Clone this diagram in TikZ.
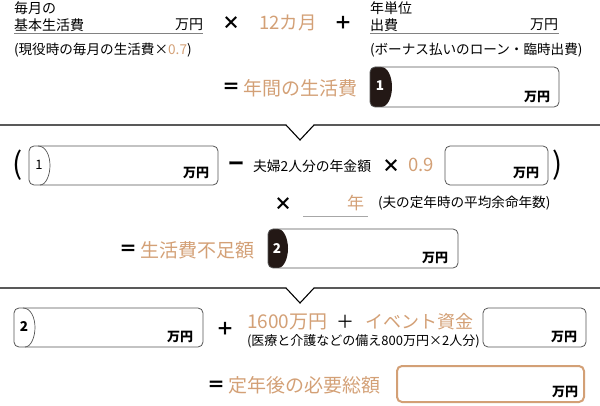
\documentclass[tikz,border=0pt]{standalone}
\usepackage{fontspec}
\setmainfont{Noto Sans CJK JP}
\definecolor{tan}{RGB}{211,160,118}
\definecolor{boxgray}{RGB}{85,85,85}
\definecolor{tabblack}{RGB}{35,24,21}
\definecolor{linegray}{RGB}{130,130,130}
\begin{document}
\begin{tikzpicture}[x=1pt,y=-1pt,
  every node/.style={inner sep=0pt, outer sep=0pt},
  lbl/.style={font=\fontsize{14}{14}\selectfont, anchor=west},
  note/.style={font=\fontsize{13.6}{13.6}\selectfont, anchor=west},
  big/.style={font=\fontsize{19}{19}\selectfont, anchor=west, text=tan},
  op/.style={font=\fontsize{18}{18}\selectfont\bfseries},
  unit/.style={font=\fontsize{13}{13}\selectfont\bfseries, anchor=east},
  num/.style={font=\fontsize{13.5}{13.5}\selectfont\bfseries},
  ansbox/.style={draw=boxgray, line width=0.8pt, rounded corners=5pt},
  sepline/.style={draw=black, line width=1.1pt},
  uline/.style={draw=linegray, line width=1pt}]
\useasboundingbox (0,0) rectangle (600,406);

% ---------- row 1 ----------
\node[lbl] (t1a) at (14,8) {毎月の};
\node[lbl] (t1b) at (14,25) {基本生活費};
\node[unit, font=\fontsize{14}{14}\selectfont] (t1u) at (203,25) {万円};
\draw[uline] (14,33.5) -- (203,33.5);
\node[note] (t1n) at (14,50) {(現役時の毎月の生活費×\textcolor{tan}{0.7})};
\node[op] (m1) at (231,23) {×};
\node[big, font=\fontsize{18.5}{18.5}\selectfont] (twelve) at (259,23) {12カ月};
\node[op] (p1) at (343,23) {＋};
\node[lbl] (t2a) at (370,8) {年単位};
\node[lbl] (t2b) at (370,25) {出費};
\node[unit, font=\fontsize{14}{14}\selectfont] (t2u) at (558,25) {万円};
\draw[uline] (370,33.5) -- (559,33.5);
\node[note] (t2n) at (370,50) {(ボーナス払いのローン・臨時出費)};
\node[op] (e1) at (231,88) {＝};
\node[big] (annual) at (243,88) {年間の生活費};
% box 1
\begin{scope}
\clip[rounded corners=5pt] (370,67) rectangle (559,107);
\fill[tabblack] (360,67) -- (381,67) .. controls (388,67) and (392,77) .. (392,87) .. controls (392,97) and (388,107) .. (381,107) -- (360,107) -- cycle;
\end{scope}
\node[ansbox, anchor=north west, minimum width=189pt, minimum height=40pt] (b1) at (370,67) {};
\node[num, text=white] (n1) at (380,86) {1};
\node[unit] (u1) at (550,97) {万円};

% separator 1
\draw[sepline] (0,125) -- (286,125) -- (300,140) -- (314,125) -- (600,125);

% ---------- row 2 ----------
\node[font=\fontsize{30}{30}\selectfont] (lp) at (18,165) {(};
\node[ansbox, anchor=north west, minimum width=189pt, minimum height=39pt] (b3) at (29,146) {};
\draw[boxgray, line width=0.7pt] (38,146) .. controls (46,146) and (50,156) .. (50,165.5) .. controls (50,175) and (46,185) .. (40,185);
\node[num, font=\fontsize{13}{13}\selectfont\mdseries] (n3) at (39,165) {1};
\node[unit] (u3) at (209,173) {万円};
\node[op, font=\fontsize{16}{16}\selectfont\bfseries] (minus) at (236,166) {ー};
\node[lbl, font=\fontsize{13.8}{13.8}\selectfont] (pension) at (253,166) {夫婦2人分の年金額};
\node[op] (m2) at (391,166) {×};
\node[big, font=\fontsize{18.5}{18.5}\selectfont] (zn) at (408,165) {0.9};
\node[ansbox, anchor=north west, minimum width=103pt, minimum height=39pt] (b4) at (445,146) {};
\node[unit] (u4) at (539,173) {万円};
\node[font=\fontsize{30}{30}\selectfont] (rp) at (558,165) {)};
\node[op] (m3) at (283,204) {×};
\draw[uline, draw=linegray!70] (303,217) -- (368,217);
\node[big, font=\fontsize{17}{17}\selectfont] (yr) at (347,203) {年};
\node[note] (lifenote) at (378,203) {(夫の定年時の平均余命年数)};
\node[op] (e2) at (128,250) {＝};
\node[big] (short) at (140,250) {生活費不足額};
% box 2
\begin{scope}
\clip[rounded corners=5pt] (268,229) rectangle (458,268);
\fill[tabblack] (258,229) -- (278,229) .. controls (284,229) and (288,239) .. (288,248.5) .. controls (288,258) and (284,268) .. (278,268) -- (258,268) -- cycle;
\end{scope}
\node[ansbox, anchor=north west, minimum width=190pt, minimum height=39pt] (b2) at (268,229) {};
\node[num, text=white] (n2) at (277,249) {2};
\node[unit] (u2) at (448,258) {万円};

% separator 2
\draw[sepline] (0,288) -- (286,288) -- (300,303) -- (314,288) -- (600,288);

% ---------- row 3 ----------
\node[ansbox, anchor=north west, minimum width=189pt, minimum height=39pt] (b5) at (14,308) {};
\draw[boxgray, line width=0.7pt] (23,308) .. controls (31,308) and (35,318) .. (35,327.5) .. controls (35,337) and (31,347) .. (25,347);
\node[num] (n5) at (24,327) {2};
\node[unit] (u5) at (193,337) {万円};
\node[op] (p2) at (225,329) {＋};
\node[big, font=\fontsize{19}{19}\selectfont] (sixteen) at (247,322) {1600万円};
\node[op, font=\fontsize{18}{18}\selectfont] (p3) at (345,322) {＋};
\node[big, font=\fontsize{18}{18}\selectfont] (event) at (365,322) {イベント資金};
\node[note, font=\fontsize{13}{13}\selectfont] (eventnote) at (247,341) {(医療と介護などの備え800万円×2人分)};
\node[ansbox, anchor=north west, minimum width=103pt, minimum height=39pt] (b6) at (483,308) {};
\node[unit] (u6) at (577,337) {万円};
\node[op] (e3) at (216,386) {＝};
\node[big] (total) at (228,385) {定年後の必要総額};
\node[draw=tan, line width=2pt, rounded corners=5pt, anchor=north west, minimum width=187pt, minimum height=36pt] (b7) at (397,366) {};
\node[unit] (u7) at (578,392) {万円};
\end{tikzpicture}
\end{document}
